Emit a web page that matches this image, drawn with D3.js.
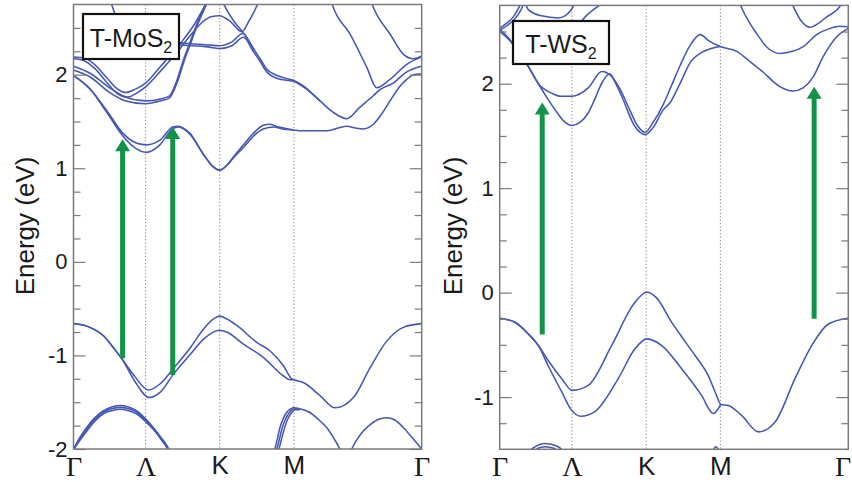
<!DOCTYPE html>
<html><head><meta charset="utf-8">
<script src="https://cdn.jsdelivr.net/npm/d3@7"></script>
<style>body{margin:0;background:#fff}</style>
</head><body>
<svg id="c" width="852" height="482"></svg>
<script>
// ---- k-path (x = % of path length) ----
const kLabels = ["Γ","Λ","K","M","Γ"];
const kTicks = [0, 20.7, 42, 63.3, 100];

// ---- y ticks ----
const mosMajor = [-2,-1,0,1,2];
const mosMinor = [-1.75,-1.5,-1.25,-0.75,-0.5,-0.25,0.25,0.5,0.75,1.25,1.5,1.75,2.25,2.5];
const wsMajor = [-1,0,1,2];
const wsMinor = [-1.25,-0.75,-0.5,-0.25,0.25,0.5,0.75,1.25,1.5,1.75,2.25,2.5];

// ================= T-MoS2 bands [x%, E eV] =================
const mos_v1a = [[0,-0.66],[4.7,-0.70],[8.6,-0.79],[11.5,-0.92],[13.8,-1.03],[17.5,-1.22],[21.5,-1.37],[25,-1.30],[28.7,-1.14],[33.5,-0.92],[37.3,-0.72],[40.2,-0.61],[41.9,-0.58],[43.5,-0.60],[46.9,-0.68],[52.6,-0.86],[56.4,-0.95],[60.3,-1.11],[62.7,-1.25],[63.3,-1.26],[66,-1.29],[70.8,-1.43],[75.1,-1.56],[80.4,-1.45],[85.2,-1.13],[89.9,-0.85],[94.7,-0.70],[100,-0.66]];
const mos_v1b = [[0,-0.66],[4.7,-0.70],[8.6,-0.79],[11.5,-0.92],[13.8,-1.03],[17.5,-1.27],[21.8,-1.45],[25,-1.39],[28.7,-1.20],[33.5,-0.99],[37.5,-0.82],[41.9,-0.73],[44,-0.75],[48.8,-0.88],[54.5,-1.02],[60.3,-1.22],[62.2,-1.26],[63.3,-1.26]];
const mos_v2a = [[-0.5,-2.03],[0,-2.0],[1.8,-1.88],[3.8,-1.77],[6,-1.67],[8.6,-1.59],[11,-1.55],[13.4,-1.535],[15.8,-1.55],[18.1,-1.59],[20.5,-1.67],[22.9,-1.77],[25,-1.87],[27.2,-1.99],[27.8,-2.04]];
const mos_v2b = [[0,-2.0],[1.9,-1.89],[3.9,-1.785],[6.1,-1.685],[8.7,-1.605],[11,-1.57],[13.4,-1.555],[15.8,-1.57],[18.1,-1.605],[20.5,-1.685],[22.9,-1.78],[25,-1.88],[27.2,-2.0],[27.8,-2.05]];
const mos_v2c = [[0,-2.01],[2,-1.9],[4,-1.8],[6.2,-1.70],[8.8,-1.62],[11,-1.59],[13.4,-1.575],[15.8,-1.59],[18.1,-1.625],[20.5,-1.70],[22.9,-1.79],[25,-1.89],[27.2,-2.01],[27.8,-2.06]];
const mos_v3a = [[57.4,-2.06],[58.5,-1.9],[59.3,-1.77],[60.3,-1.67],[61.2,-1.61],[62.2,-1.575],[63.1,-1.56],[65,-1.57],[67.9,-1.61],[70.5,-1.69],[72.7,-1.77],[75,-1.9],[76.5,-2.0],[77.2,-2.06]];
const mos_v3b = [[58.0,-2.06],[59.1,-1.9],[59.9,-1.78],[60.9,-1.68],[61.8,-1.62],[62.6,-1.585],[63.3,-1.57],[65,-1.575]];
const mos_v3c = [[58.6,-2.06],[59.7,-1.9],[60.5,-1.79],[61.4,-1.69],[62.3,-1.63],[63,-1.595],[63.6,-1.58],[65,-1.58]];
const mos_v4 = [[79.2,-2.06],[79.9,-2.0],[82.5,-1.84],[85.2,-1.74],[87.5,-1.685],[89.9,-1.665],[92.3,-1.69],[94.7,-1.77],[97.3,-1.88],[100,-2.0]];
const mos_c1a = [[0,1.99],[4.7,1.85],[9.5,1.62],[14.3,1.37],[18,1.27],[21,1.25],[24.8,1.30],[28.5,1.44],[30,1.45],[33.5,1.37],[37.3,1.15],[40,1.02],[42,0.98],[44,1.03],[45.9,1.12],[49,1.26],[51.6,1.37],[54.5,1.46],[56.4,1.47],[59,1.44],[63.1,1.41],[66,1.40],[69.8,1.40],[72.7,1.40],[76,1.43],[78.5,1.45],[81,1.43],[83.2,1.42],[86.1,1.47],[88.5,1.58],[90.9,1.72],[93.8,1.88],[95.7,1.95],[97.6,2.0],[100,2.01]];
const mos_c1b = [[0,1.99],[4.7,1.85],[9.5,1.60],[14.3,1.34],[18,1.21],[21,1.17],[24.8,1.25],[28.5,1.42],[30,1.44],[33.5,1.36],[37.3,1.15],[40,1.02],[42,0.98],[44,1.03],[45.9,1.11],[49,1.23],[51.6,1.34],[54.5,1.42],[57.5,1.44],[60,1.42],[63.1,1.41]];
const mos_u1 = [[0,2.19],[3,2.18],[6,2.11],[9.5,1.97],[12.5,1.85],[14.8,1.81],[17.5,1.84],[20.7,1.91],[24.8,2.08],[30.6,2.33],[34.4,2.52],[37.5,2.72],[39,2.82]];
const mos_u2 = [[0,2.17],[3,2.15],[6,2.07],[9.5,1.92],[12.5,1.8],[15.5,1.76],[18,1.8],[20.7,1.87],[24.8,2.03],[30.6,2.28],[34,2.44],[37,2.56],[39.5,2.62],[41.9,2.63],[45,2.57],[48.3,2.46],[50.5,2.58],[53.5,2.8]];
const mos_p1 = [[0,2.09],[5,2.01],[10,1.87],[15,1.76],[20.7,1.72],[25,1.74],[27.5,1.77],[29.5,1.92],[31.5,2.15],[33.5,2.35],[35.5,2.55],[37.5,2.72],[38.8,2.82]];
const mos_p2 = [[0,2.05],[5,1.97],[10,1.82],[15,1.72],[20.7,1.69],[25,1.72],[27.5,1.75],[29.8,1.92],[31.8,2.15],[33.8,2.35],[35.8,2.55],[37.8,2.72],[39.1,2.82]];
const mos_f1 = [[10.5,2.8],[13,2.55],[16,2.42],[20,2.37],[25,2.35],[30,2.34],[34,2.33],[38,2.32],[41.9,2.31],[45.5,2.35],[48.6,2.44],[51.6,2.28],[53.6,2.17],[55.5,2.06],[59.3,1.98],[63.1,1.94],[66,1.88],[70.8,1.72],[74.5,1.6],[78.5,1.53],[82.2,1.65],[86.1,1.775],[88,1.84],[91.8,1.91],[95.7,2.03],[100,2.09]];
const mos_f2 = [[20,2.34],[25,2.33],[30,2.32],[34,2.31],[38,2.30],[41.9,2.28],[45.5,2.31],[48.8,2.40],[51.6,2.25],[53.6,2.14],[55.5,2.03],[59.3,1.95],[63.1,1.93],[66,1.87],[70.8,1.72]];
const mos_t1 = [[42.5,2.8],[44.5,2.66],[46.5,2.55],[48.5,2.46],[50.5,2.35],[52,2.26]];
const mos_d1 = [[73.5,2.85],[74.6,2.72],[79.4,2.435],[84.2,2.08],[87.1,1.86],[90.9,1.95],[95.7,2.11],[100,2.19]];
const mos_d2 = [[85.3,2.8],[86.1,2.72],[90.9,2.435],[94.7,2.22],[97.6,2.17],[100,2.2]];
const mosBands = [mos_v1a,mos_v1b,mos_v2a,mos_v2b,mos_v2c,mos_v3a,mos_v3b,mos_v3c,mos_v4,
  mos_c1a,mos_c1b,mos_u1,mos_u2,mos_p1,mos_p2,mos_f1,mos_f2,mos_t1,mos_d1,mos_d2];
const mosArrowX = [14.1, 28.5];
const mosArrowFrom = [-1.03, -1.21];
const mosArrowTo = [1.31, 1.44];

// ================= T-WS2 bands [x%, E eV] =================
const ws_v1a = [[0,-0.245],[4.4,-0.283],[8.2,-0.395],[11.1,-0.507],[13.9,-0.65],[17.8,-0.824],[20.8,-0.936],[25.4,-0.888],[32.1,-0.507],[38.8,-0.093],[42.2,0.003],[45,-0.05],[49.3,-0.283],[53,-0.46],[56,-0.60],[59.8,-0.793],[62.2,-0.984],[63.4,-1.07],[65.6,-1.08],[69.4,-1.175],[74.2,-1.333],[79,-1.238],[84.7,-0.824],[89.5,-0.507],[94.3,-0.30],[100,-0.245]];
const ws_v1b = [[0,-0.245],[4.4,-0.283],[8.2,-0.395],[11.1,-0.507],[13.9,-0.70],[17.8,-0.95],[20.5,-1.12],[23.3,-1.184],[27.3,-1.14],[34,-0.824],[38.8,-0.538],[42.2,-0.443],[46.5,-0.507],[52.2,-0.729],[57.9,-0.984],[61.3,-1.158],[62.4,-1.127],[63.4,-1.07]];
const ws_v2a = [[7.5,-1.55],[9.5,-1.49],[13,-1.445],[16.5,-1.47],[19.2,-1.55]];
const ws_v2b = [[9,-1.55],[11,-1.49],[13,-1.475],[15.5,-1.49],[17.5,-1.55]];
const ws_v3 = [[61.2,-1.55],[61.5,-1.49],[62,-1.475],[62.5,-1.49],[62.8,-1.55]];
const ws_c1a = [[0,2.52],[3,2.42],[5.5,2.3],[8.2,2.165],[11.1,2.0],[14.9,1.91],[17.5,1.88],[20.7,1.88],[25.4,1.96],[29.3,2.117],[32.1,2.07],[34.5,1.95],[36.9,1.78],[39.5,1.6],[41.7,1.535],[44,1.63],[46.9,1.80],[49,1.96],[51.7,2.17],[54.5,2.36],[57.5,2.47],[60,2.41],[63.3,2.356],[68,2.31],[71.5,2.22],[75.6,2.11],[80,1.98],[84.2,1.93],[87,1.96],[90,2.07],[92.8,2.26],[96.7,2.45],[100,2.53]];
const ws_c1b = [[0,2.50],[3,2.41],[5.5,2.29],[8.2,2.165],[11.1,2.0],[13.5,1.87],[15.9,1.75],[18.5,1.64],[20.7,1.60],[23,1.63],[25.4,1.72],[27.5,1.87],[29.3,2.007],[31.6,2.095],[33.3,2.0],[35,1.88],[38.8,1.59],[41.7,1.513],[44,1.58],[46.9,1.75],[48.9,1.82],[51.7,2.0],[54.6,2.2],[58,2.3],[61,2.34],[63.3,2.356]];
const ws_w1 = [[68.5,2.8],[69.5,2.72],[73.7,2.48],[77,2.34],[80.4,2.29],[84,2.31],[87.1,2.356],[90.9,2.47],[94.8,2.53],[97.5,2.55],[100,2.545]];
const ws_w2 = [[83.3,2.8],[84.2,2.74],[86.5,2.6],[89,2.54],[91.5,2.58],[93.8,2.64],[97.6,2.74],[98.5,2.8]];
const ws_t1 = [[0,2.53],[2,2.58],[3.9,2.64],[5.8,2.75],[6.5,2.8]];
const ws_t2 = [[0,2.51],[2.2,2.56],[4.3,2.62],[6.3,2.72],[7.2,2.8]];
const ws_t3 = [[7,2.8],[8.2,2.71],[12,2.65],[16.8,2.63],[19.5,2.67],[21.1,2.74],[21.8,2.8]];
const ws_t4 = [[21.5,2.5],[24.5,2.64],[27.3,2.72],[30,2.78],[31,2.8]];
const wsBands = [ws_v1a,ws_v1b,ws_v2a,ws_v2b,ws_v3,ws_c1a,ws_c1b,ws_w1,ws_w2,ws_t1,ws_t2,ws_t3,ws_t4];
const wsArrowX = [12.2, 90.2];
const wsArrowFrom = [-0.40, -0.25];
const wsArrowTo = [1.82, 1.97];

// ================= drawing =================
const BLUE = "#4557b4", GREEN = "#119447", FRAME = "#7a7a7a", TXT = "#1a1a1a";
const svg = d3.select("#c");
svg.append("rect").attr("width",852).attr("height",482).attr("fill","#fff");

function drawPanel(cfg) {
  const x = d3.scaleLinear().domain([0,100]).range([cfg.x0, cfg.x1]);
  const y = d3.scaleLinear().domain(cfg.yDomain).range([cfg.y1, cfg.y0]);
  const g = svg.append("g");
  g.append("clipPath").attr("id", cfg.id).append("rect")
    .attr("x", cfg.x0).attr("y", cfg.y0).attr("width", cfg.x1-cfg.x0).attr("height", cfg.y1-cfg.y0);

  // dotted high-symmetry lines
  g.selectAll("line.hs").data(kTicks.slice(1,-1)).join("line")
    .attr("x1", d=>x(d)).attr("x2", d=>x(d)).attr("y1", cfg.y0).attr("y2", cfg.y1)
    .attr("stroke", "#808080").attr("stroke-width", 1).attr("stroke-dasharray", "1.2,2.2");

  // bands
  const line = d3.line().x(d=>x(d[0])).y(d=>y(d[1])).curve(d3.curveMonotoneX);
  g.append("g").attr("clip-path", `url(#${cfg.id})`)
    .selectAll("path").data(cfg.bands).join("path")
    .attr("d", line).attr("fill","none").attr("stroke", BLUE).attr("stroke-width", 1.55);

  // arrows
  const ag = g.append("g");
  cfg.ax.forEach((xv,i) => {
    const xp = x(xv), yt = y(cfg.aFrom[i]), yh = y(cfg.aTo[i]);
    ag.append("line").attr("x1",xp).attr("x2",xp).attr("y1",yt).attr("y2",yh+10)
      .attr("stroke",GREEN).attr("stroke-width",5);
    ag.append("path").attr("d",`M${xp},${yh} L${xp-7.5},${yh+12} L${xp+7.5},${yh+12} Z`)
      .attr("fill",GREEN);
  });

  // frame
  g.append("rect").attr("x",cfg.x0).attr("y",cfg.y0).attr("width",cfg.x1-cfg.x0).attr("height",cfg.y1-cfg.y0)
    .attr("fill","none").attr("stroke",FRAME).attr("stroke-width",1.5);

  // axes (inward ticks on both sides)
  const styleAxis = sel => { sel.select(".domain").remove(); sel.selectAll("line").attr("stroke",FRAME).attr("stroke-width",1.2); };
  g.append("g").attr("transform",`translate(${cfg.x0},0)`)
    .call(d3.axisLeft(y).tickValues(cfg.major).tickSize(-12).tickPadding(6).tickFormat(d=>String(d)))
    .call(styleAxis)
    .call(s=>s.selectAll("text").attr("font-family","Liberation Sans, Arial, sans-serif").attr("font-size",22).attr("fill",TXT));
  g.append("g").attr("transform",`translate(${cfg.x0},0)`)
    .call(d3.axisLeft(y).tickValues(cfg.minor).tickSize(-7).tickFormat(""))
    .call(styleAxis);
  g.append("g").attr("transform",`translate(${cfg.x1},0)`)
    .call(d3.axisRight(y).tickValues(cfg.major).tickSize(-12).tickFormat(""))
    .call(styleAxis);
  g.append("g").attr("transform",`translate(${cfg.x1},0)`)
    .call(d3.axisRight(y).tickValues(cfg.minor).tickSize(-7).tickFormat(""))
    .call(styleAxis);

  // k-point labels
  g.append("g").attr("transform",`translate(0,${cfg.y1})`)
    .call(d3.axisBottom(x).tickValues(kTicks).tickSize(0).tickPadding(7).tickFormat((d,i)=>kLabels[i]))
    .call(s=>s.select(".domain").remove())
    .call(s=>s.selectAll("text")
      .attr("font-family",(d,i)=> (i===2||i===3) ? "Liberation Sans, Arial, sans-serif" : "Liberation Serif, Times New Roman, serif")
      .attr("font-size",(d,i)=> (i===2||i===3) ? 26 : 28)
      .attr("fill",TXT)
      .attr("text-anchor",(d,i)=> (cfg.lastEnd && i===4) ? "end" : "middle")
      .attr("dx",(d,i)=> (cfg.lastEnd && i===4) ? 2.5 : 0));

  // y title
  svg.append("text").attr("transform",`translate(${cfg.titleX},226) rotate(-90)`)
    .attr("text-anchor","middle").attr("font-family","Liberation Sans, Arial, sans-serif")
    .attr("font-size",26).attr("fill",TXT).text("Energy (eV)");

  // label box
  svg.append("rect").attr("x",cfg.box[0]).attr("y",cfg.box[1]).attr("width",cfg.box[2]).attr("height",cfg.box[3])
    .attr("fill","#fff").attr("stroke","#111").attr("stroke-width",2.2);
  const t = svg.append("text").attr("x",cfg.box[0]+cfg.box[2]/2).attr("y",cfg.box[1]+cfg.box[3]/2+10)
    .attr("text-anchor","middle").attr("font-family","Liberation Sans, Arial, sans-serif")
    .attr("font-size",25).attr("fill",TXT);
  t.append("tspan").text(cfg.label);
  t.append("tspan").attr("dy",6).attr("font-size",16).text("2");
}

drawPanel({id:"clipL", x0:73.5, x1:421.7, y0:4.5, y1:449, yDomain:[-2,2.75],
  major:mosMajor, minor:mosMinor, bands:mosBands, ax:mosArrowX, aFrom:mosArrowFrom, aTo:mosArrowTo,
  titleX:34, box:[83,14,96,45], label:"T-MoS", lastEnd:false});
drawPanel({id:"clipR", x0:499.7, x1:848.3, y0:5.4, y1:449.3, yDomain:[-1.5,2.75],
  major:wsMajor, minor:wsMinor, bands:wsBands, ax:wsArrowX, aFrom:wsArrowFrom, aTo:wsArrowTo,
  titleX:462, box:[513,21,96,43], label:"T-WS", lastEnd:true});
</script>
</body></html>
